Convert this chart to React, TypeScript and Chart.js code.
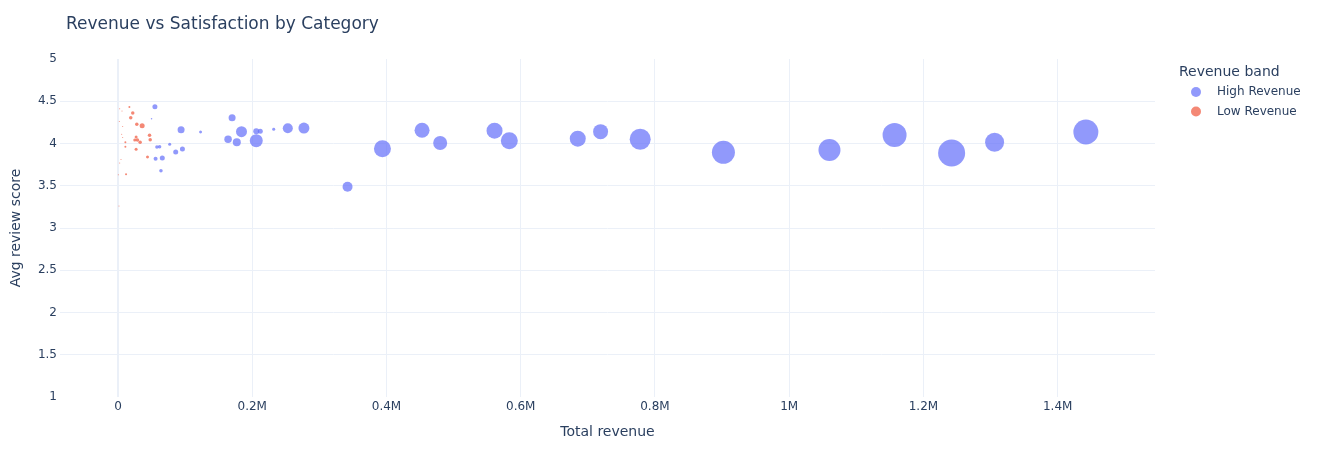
import { useEffect, useRef } from "react";
import { Chart, registerables } from "chart.js";

Chart.register(...registerables);

// ---------- data ----------
const chartTitle = "Revenue vs Satisfaction by Category";
const xAxisTitle = "Total revenue";
const yAxisTitle = "Avg review score";
const legendTitle = "Revenue band";
const bandNames = ["High Revenue", "Low Revenue"];

const highRevenueTotals = [
  1442000, 1306000, 1242000, 1157000, 1060000, 902000, 778000, 719000, 685000, 583000,
  561000, 480000, 453000, 394000, 342000, 277000, 253000, 232000, 212000, 206000,
  206000, 184000, 177000, 170000, 164000, 123000, 96000, 94000, 86000, 77000,
  66000, 64000, 62000, 58000, 56000, 55000, 50000,
];
const highRevenueScores = [
  4.136, 4.014, 3.888, 4.101, 3.923, 3.896, 4.05, 4.14, 4.057, 4.033,
  4.152, 4.006, 4.156, 3.939, 3.489, 4.183, 4.18, 4.168, 4.144, 4.144,
  4.033, 4.14, 4.014, 4.305, 4.05, 4.136, 3.935, 4.163, 3.9, 3.99,
  3.828, 3.678, 3.962, 3.959, 3.82, 4.436, 4.293,
];
const highRevenueOrders = [
  9250, 5343, 10789, 8525, 7163, 7829, 6527, 3330, 3789, 4277,
  3789, 2901, 3330, 4277, 1480, 1791, 1480, 133, 370, 533,
  2501, 1791, 947, 725, 833, 133, 370, 725, 370, 133,
  370, 181, 181, 181, 237, 370, 33,
];

const lowRevenueTotals = [
  17000, 22000, 19000, 28000, 36000, 47000, 48000, 27000, 29000, 25000,
  33000, 27000, 11000, 11000, 44000, 12000, 5500, 7000, 7000, 2500,
  2000, 4500, 2500, 500, 1500, 6000,
];
const lowRevenueScores = [
  4.432, 4.361, 4.305, 4.227, 4.21, 4.097, 4.045, 4.077, 4.041, 4.04,
  4.014, 3.931, 4.014, 3.962, 3.84, 3.636, 4.11, 4.07, 4.2, 4.41,
  4.26, 3.81, 3.77, 3.63, 3.26, 4.385,
];
const lowRevenueOrders = [
  59, 181, 181, 181, 370, 181, 181, 133, 181, 133,
  181, 133, 59, 59, 133, 59, 15, 15, 15, 15,
  15, 15, 15, 15, 15, 15,
];

const xTickValues = [0, 200000, 400000, 600000, 800000, 1000000, 1200000, 1400000];
const yTickValues = [1, 1.5, 2, 2.5, 3, 3.5, 4, 4.5, 5];
const xRange = [-86400, 1545000];
const yRange = [1, 5];

// ---------- styles ----------
const FONT = '"DejaVu Sans", Verdana, Arial, sans-serif';
const TEXT = "#2a3f5f";
const GRID = "#EBF0F8";
const bandColors = ["rgba(99,110,250,0.7)", "rgba(239,85,59,0.7)"];
const SIZE_SCALE = 0.13; // radius px per sqrt(order)

const radiusFor = (orders: number) => Math.sqrt(orders) * SIZE_SCALE;

const buildPoints = (xs: number[], ys: number[], ss: number[]) =>
  xs.map((x, i) => ({ x, y: ys[i], r: radiusFor(ss[i]) }));

const formatRevenue = (v: number) => {
  if (v === 0) return "0";
  const m = v / 1e6;
  return `${parseFloat(m.toFixed(2))}M`;
};

const decorPlugin = {
  id: "decor",
  afterDraw(chart: any) {
    const ctx: CanvasRenderingContext2D = chart.ctx;
    const area = chart.chartArea;
    ctx.save();
    ctx.fillStyle = TEXT;

    // title
    ctx.font = `17px ${FONT}`;
    ctx.textAlign = "left";
    ctx.textBaseline = "alphabetic";
    ctx.fillText(chartTitle, 66, 29);

    // x axis title
    ctx.font = `14px ${FONT}`;
    ctx.textAlign = "center";
    ctx.textBaseline = "middle";
    ctx.fillText(xAxisTitle, (area.left + area.right) / 2, 432);

    // y axis title
    ctx.save();
    ctx.translate(16, (area.top + area.bottom) / 2);
    ctx.rotate(-Math.PI / 2);
    ctx.fillText(yAxisTitle, 0, 0);
    ctx.restore();

    // legend
    ctx.textAlign = "left";
    ctx.font = `14px ${FONT}`;
    ctx.fillText(legendTitle, 1179, 72);
    ctx.font = `12px ${FONT}`;
    bandNames.forEach((name, i) => {
      const y = 92 + i * 19.5;
      ctx.beginPath();
      ctx.arc(1196, y, 5, 0, Math.PI * 2);
      ctx.fillStyle = bandColors[i];
      ctx.fill();
      ctx.fillStyle = TEXT;
      ctx.fillText(name, 1217, y);
    });
    ctx.restore();
  },
};

export default function App() {
  const canvasRef = useRef<HTMLCanvasElement | null>(null);

  useEffect(() => {
    document.body.style.margin = "0";
    const canvas = canvasRef.current;
    if (!canvas) return;

    const chart = new Chart(canvas, {
      type: "bubble",
      data: {
        datasets: [
          {
            label: bandNames[1],
            data: buildPoints(lowRevenueTotals, lowRevenueScores, lowRevenueOrders),
            backgroundColor: bandColors[1],
            borderWidth: 0,
          },
          {
            label: bandNames[0],
            data: buildPoints(highRevenueTotals, highRevenueScores, highRevenueOrders),
            backgroundColor: bandColors[0],
            borderWidth: 0,
          },
        ],
      },
      options: {
        responsive: false,
        animation: false,
        events: [],
        layout: { padding: { left: 0, right: 163, top: 59, bottom: 0 } },
        plugins: {
          legend: { display: false },
          tooltip: { enabled: false },
          title: { display: false },
        },
        scales: {
          x: {
            type: "linear",
            min: xRange[0],
            max: xRange[1],
            afterBuildTicks: (scale: any) => {
              scale.ticks = xTickValues.map((value) => ({ value }));
            },
            afterFit: (scale: any) => {
              scale.height = 53;
            },
            border: { display: false },
            grid: {
              drawTicks: false,
              color: GRID,
              lineWidth: (c: any) => (c.tick && c.tick.value === 0 ? 2 : 1),
            },
            ticks: {
              padding: 3,
              color: TEXT,
              font: { family: FONT, size: 12 },
              maxRotation: 0,
              autoSkip: false,
              callback: (v: any) => formatRevenue(Number(v)),
            },
          },
          y: {
            type: "linear",
            min: yRange[0],
            max: yRange[1],
            afterBuildTicks: (scale: any) => {
              scale.ticks = yTickValues.map((value) => ({ value }));
            },
            afterFit: (scale: any) => {
              scale.width = 60;
            },
            border: { display: false },
            grid: {
              drawTicks: false,
              color: (c: any) =>
                c.tick && (c.tick.value === yRange[0] || c.tick.value === yRange[1])
                  ? "rgba(0,0,0,0)"
                  : GRID,
              lineWidth: 1,
            },
            ticks: {
              padding: 3,
              color: TEXT,
              font: { family: FONT, size: 12 },
              autoSkip: false,
              callback: (v: any) => String(Number(v)),
            },
          },
        },
      },
      plugins: [decorPlugin],
    } as any);

    return () => {
      chart.destroy();
    };
  }, []);

  return (
    <div style={{ width: 1318, height: 450, background: "#fff" }}>
      <canvas ref={canvasRef} width={1318} height={450} />
    </div>
  );
}
